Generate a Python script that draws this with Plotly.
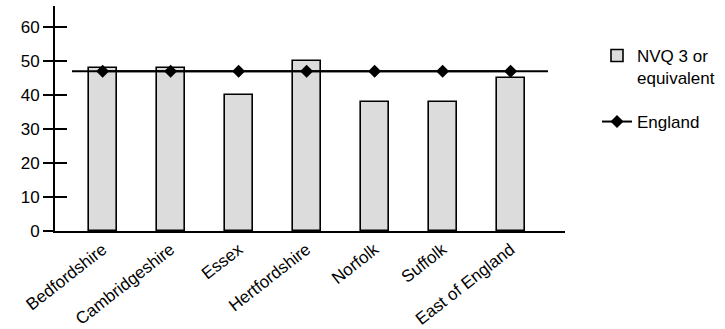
import plotly.graph_objects as go

# Share of working-age population qualified to NVQ level 3 or equivalent (%)
areas = ["Bedfordshire", "Cambridgeshire", "Essex", "Hertfordshire",
         "Norfolk", "Suffolk", "East of England"]
nvq3 = [48, 48, 40, 50, 38, 38, 45]
england = [47, 47, 47, 47, 47, 47, 47]
y_ticks = [0, 10, 20, 30, 40, 50, 60]

FONT = "Liberation Sans, Arial, Helvetica, sans-serif"
FS = 17
idx = list(range(len(areas)))

fig = go.Figure()

fig.add_trace(go.Bar(
    x=idx, y=nvq3, width=0.41,
    name="NVQ 3 or<br>equivalent",
    marker=dict(color="#dcdcdc", line=dict(color="black", width=1.6)),
    legend="legend",
))

fig.add_trace(go.Scatter(
    x=idx, y=england, mode="lines+markers", name="England",
    line=dict(color="black", width=2),
    marker=dict(symbol="diamond", size=10, color="black"),
    legend="legend2",
))

# England benchmark line continued across the category band
fig.add_shape(type="line", xref="x", yref="y",
              x0=-0.45, x1=len(areas) - 0.45,
              y0=england[0], y1=england[-1],
              line=dict(color="black", width=2), layer="above")

fig.update_layout(
    width=725, height=329,
    margin=dict(l=55, r=160, t=6, b=98, autoexpand=False),
    paper_bgcolor="white", plot_bgcolor="white",
    font=dict(family=FONT, size=FS, color="black"),
    bargap=0,
    xaxis=dict(
        range=[-0.7, 6.8], tickmode="array", tickvals=idx, ticktext=areas,
        tickangle=-38, ticks="", showgrid=False, zeroline=False,
        showline=True, linecolor="black", linewidth=2,
        tickfont=dict(size=FS), automargin=False,
    ),
    yaxis=dict(
        range=[0, 66.2], tickmode="array", tickvals=y_ticks,
        ticks="outside", ticklen=10, tickwidth=1.5, tickcolor="black",
        showgrid=False, zeroline=False,
        showline=True, linecolor="black", linewidth=2,
        tickfont=dict(size=FS), automargin=False,
    ),
    yaxis2=dict(
        range=[0, 66.2], overlaying="y", side="left", tickmode="array",
        tickvals=y_ticks[1:], showticklabels=False,
        ticks="inside", ticklen=12, tickwidth=1.5, tickcolor="black",
        showgrid=False, zeroline=False, showline=False, automargin=False,
    ),
    legend=dict(x=597 / 725, y=1 - 38 / 329, xref="container", yref="container",
                xanchor="left", yanchor="top", bgcolor="rgba(0,0,0,0)",
                valign="top", font=dict(size=FS)),
    legend2=dict(x=597 / 725, y=1 - 104 / 329, xref="container", yref="container",
                 xanchor="left", yanchor="top", bgcolor="rgba(0,0,0,0)",
                 font=dict(size=FS)),
    showlegend=True,
)

# invisible trace so the inside tick axis is drawn
fig.add_trace(go.Scatter(x=[None], y=[None], yaxis="y2", showlegend=False,
                         hoverinfo="skip"))

fig.write_html("out.html")
